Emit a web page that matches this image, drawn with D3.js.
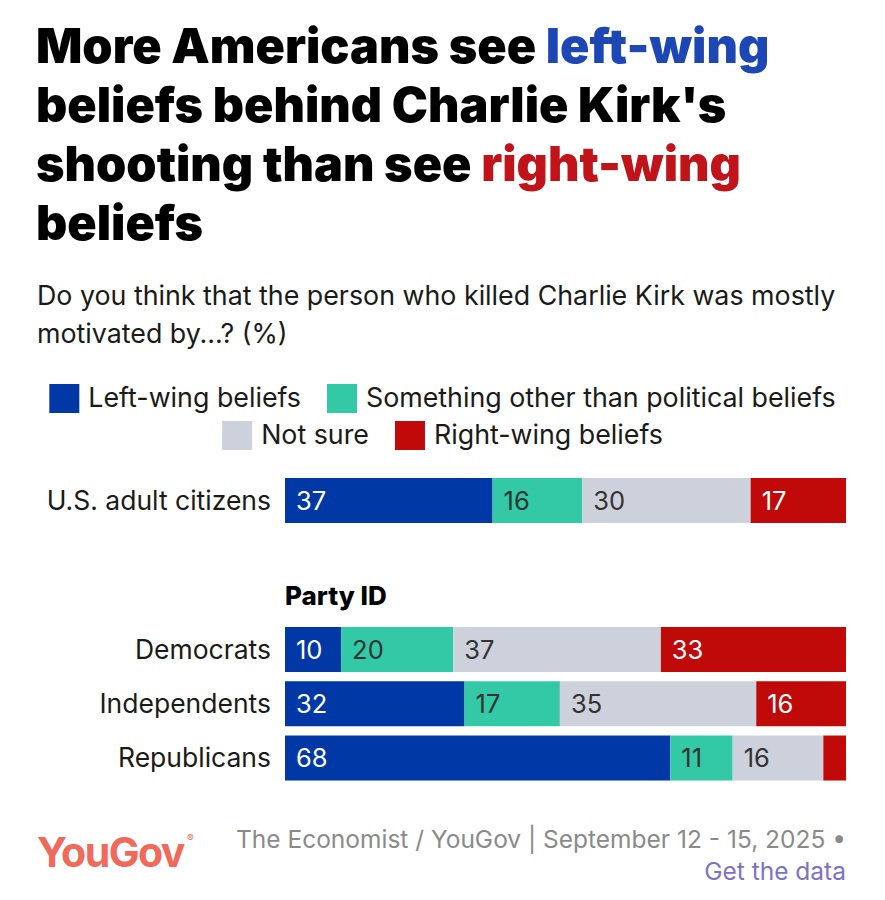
<!DOCTYPE html>
<html>
<head>
<meta charset="utf-8">
<script src="https://cdn.jsdelivr.net/npm/d3@7"></script>
<style>
  body { margin: 0; background: #fff; }
  text { font-family: Inter, "Noto Sans", sans-serif; }
</style>
</head>
<body>
<div id="chart-area"></div>
<script>
// SVG Size
var width = 885,
	height = 900;

// Data
var categories = ["Left-wing beliefs", "Something other than political beliefs", "Not sure", "Right-wing beliefs"];
var colors = ["#0039A6", "#33C9A7", "#CDD1DC", "#C00A0A"];
var labelColors = ["#fff", "#333", "#333", "#fff"];

var totalGroup = ["U.S. adult citizens"];
var partyGroups = ["Democrats", "Independents", "Republicans"];

var leftWing = [37, 10, 32, 68];
var somethingElse = [16, 20, 17, 11];
var notSure = [30, 37, 35, 16];
var rightWing = [17, 33, 16, 4];

var rows = totalGroup.concat(partyGroups).map(function(name, i) {
	return {
		name: name,
		"Left-wing beliefs": leftWing[i],
		"Something other than political beliefs": somethingElse[i],
		"Not sure": notSure[i],
		"Right-wing beliefs": rightWing[i]
	};
});

var svg = d3.select("#chart-area")
	.append("svg")
	.attr("width", width)
	.attr("height", height);

// Title
var titleLines = [
	[["More Americans see ", "#000"], ["left-wing", "#1C47B5"]],
	[["beliefs behind Charlie Kirk's", "#000"]],
	[["shooting than see ", "#000"], ["right-wing", "#C1141A"]],
	[["beliefs", "#000"]]
];
titleLines.forEach(function(line, i) {
	var t = svg.append("text")
		.attr("x", 36)
		.attr("y", 63 + i * 59)
		.attr("font-size", 48.5)
		.attr("font-weight", 900);
	line.forEach(function(part) {
		t.append("tspan").attr("fill", part[1]).text(part[0]);
	});
});

// Subtitle
["Do you think that the person who killed Charlie Kirk was mostly", "motivated by...? (%)"].forEach(function(s, i) {
	svg.append("text")
		.attr("x", 37)
		.attr("y", 305 + i * 38)
		.attr("font-size", 26.8)
		.attr("fill", "#1a1a1a")
		.text(s);
});

// Legend (two centered rows)
var legendRows = [[0, 1], [2, 3]];
legendRows.forEach(function(idx, r) {
	var g = svg.append("g");
	var x = 0;
	idx.forEach(function(k) {
		g.append("rect")
			.attr("x", x)
			.attr("y", -14)
			.attr("width", 30)
			.attr("height", 29)
			.attr("fill", colors[k]);
		var t = g.append("text")
			.attr("x", x + 39)
			.attr("y", 9)
			.attr("font-size", 26.8)
			.attr("fill", "#1a1a1a")
			.text(categories[k]);
		x += 39 + t.node().getComputedTextLength() + 26;
	});
	x -= 26;
	g.attr("transform", "translate(" + (width / 2 - x / 2) + "," + (398 + r * 37) + ")");
});

// Scales
var x = d3.scaleLinear()
	.domain([0, 1])
	.range([285, 846]);

var yTotal = d3.scaleBand()
	.domain(totalGroup)
	.range([478, 523]);

var yParty = d3.scaleBand()
	.domain(partyGroups)
	.range([627, 780])
	.paddingInner(0.18);

function yPos(name) {
	return totalGroup.indexOf(name) >= 0 ? yTotal(name) : yParty(name);
}
var barH = 45;

var stack = d3.stack()
	.keys(categories)
	.offset(d3.stackOffsetExpand);
var series = stack(rows);

var layers = svg.selectAll("g.layer")
	.data(series)
	.enter()
	.append("g")
	.attr("class", "layer")
	.attr("fill", function(d, i) { return colors[i]; });

layers.selectAll("rect")
	.data(function(d) { return d; })
	.enter()
	.append("rect")
	.attr("x", function(d) { return x(d[0]); })
	.attr("y", function(d) { return yPos(d.data.name); })
	.attr("width", function(d) { return x(d[1]) - x(d[0]); })
	.attr("height", barH);

layers.each(function(s, i) {
	d3.select(this).selectAll("text")
		.data(s.filter(function(d) { return x(d[1]) - x(d[0]) > 30; }))
		.enter()
		.append("text")
		.attr("x", function(d) { return x(d[0]) + 11; })
		.attr("y", function(d) { return yPos(d.data.name) + barH / 2 + 9; })
		.attr("font-size", 25.5)
		.attr("fill", labelColors[i])
		.text(function(d) { return d.data[s.key]; });
});

// Row labels
svg.selectAll("text.row-label")
	.data(rows)
	.enter()
	.append("text")
	.attr("class", "row-label")
	.attr("x", 271)
	.attr("y", function(d) { return yPos(d.name) + barH / 2 + 9; })
	.attr("text-anchor", "end")
	.attr("font-size", 26.5)
	.attr("fill", "#1a1a1a")
	.text(function(d) { return d.name; });

// Group heading
svg.append("text")
	.attr("x", 285)
	.attr("y", 605)
	.attr("font-size", 26)
	.attr("font-weight", 800)
	.attr("fill", "#000")
	.text("Party ID");

// Footer
var logo = svg.append("text")
	.attr("x", 37)
	.attr("y", 867)
	.attr("font-size", 41)
	.attr("font-weight", 700)
	.attr("letter-spacing", -1.5)
	.attr("fill", "#F0695A");
logo.append("tspan").text("YouGov");
logo.append("tspan")
	.attr("font-size", 10)
	.attr("font-weight", 400)
	.attr("dy", -25)
	.attr("dx", 3)
	.text("®");

svg.append("text")
	.attr("x", 846)
	.attr("y", 848)
	.attr("text-anchor", "end")
	.attr("font-size", 24.5)
	.attr("fill", "#8a8a8a")
	.text("The Economist / YouGov | September 12 - 15, 2025 •");

svg.append("text")
	.attr("x", 846)
	.attr("y", 880)
	.attr("text-anchor", "end")
	.attr("font-size", 24.5)
	.attr("fill", "#7E72C6")
	.text("Get the data");
</script>
</body>
</html>
